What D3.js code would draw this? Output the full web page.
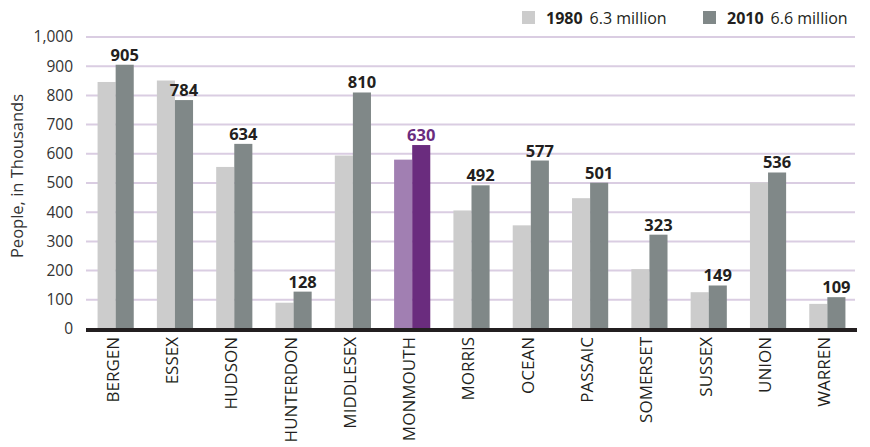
<!DOCTYPE html>
<html>
<head>
<meta charset="utf-8">
<script src="https://cdn.jsdelivr.net/npm/d3@7"></script>
<style>
body { margin: 0; background: #fff; }
svg { font-family: "Open Sans", "Noto Sans", sans-serif; }
</style>
</head>
<body>
<svg id="chart" width="870" height="447"></svg>
<script>
var counties = ['BERGEN', 'ESSEX', 'HUDSON', 'HUNTERDON', 'MIDDLESEX', 'MONMOUTH', 'MORRIS', 'OCEAN', 'PASSAIC', 'SOMERSET', 'SUSSEX', 'UNION', 'WARREN'];
var pop1980 = [846, 851, 555, 90, 594, 580, 406, 355, 448, 205, 126, 502, 86];
var pop2010 = [905, 784, 634, 128, 810, 630, 492, 577, 501, 323, 149, 536, 109];
var yTicks = [0, 100, 200, 300, 400, 500, 600, 700, 800, 900, 1000];
var legendItems = [{year: '1980', total: '6.3 million'}, {year: '2010', total: '6.6 million'}];
var highlight = 'MONMOUTH';

var svg = d3.select('#chart');
var mLeft = 86, mRight = 857, mTop = 37, mBottom = 329;

var x = d3.scaleBand().domain(counties).range([mLeft, mRight]).paddingInner(0.39).paddingOuter(0.195);
var x2 = d3.scaleBand().domain(['1980', '2010']).range([0, x.bandwidth()]);
var y = d3.scaleLinear().domain([0, 1000]).range([mBottom, mTop]);

var colors = {
	'1980': '#cccccc', '2010': '#808888',
	'1980h': '#a17fb2', '2010h': '#6a2c7e'
};

// gridlines
svg.append('g').selectAll('line')
	.data(yTicks.filter(function(d) { return d > 0; }))
	.enter().append('line')
	.attr('x1', mLeft).attr('x2', 855)
	.attr('y1', function(d) { return y(d); })
	.attr('y2', function(d) { return y(d); })
	.attr('stroke', '#dacde2')
	.attr('stroke-width', 2);

// y axis labels
var yAxis = d3.axisLeft(y).tickValues(yTicks).tickSize(0).tickPadding(13).tickFormat(d3.format(','));
svg.append('g').attr('transform', 'translate(' + mLeft + ',0)').call(yAxis)
	.call(function(g) { g.select('.domain').remove(); })
	.selectAll('text')
	.attr('font-size', 15.5).attr('fill', '#333').attr('font-family', '"Open Sans", sans-serif');

svg.append('text')
	.attr('transform', 'translate(23,176) rotate(-90)')
	.attr('text-anchor', 'middle')
	.attr('font-size', 16.5)
	.attr('fill', '#333')
	.text('People, in Thousands');

// bars
var groups = svg.append('g').selectAll('g')
	.data(counties)
	.enter().append('g')
	.attr('transform', function(d) { return 'translate(' + x(d) + ',0)'; });

groups.append('rect')
	.attr('x', x2('1980')).attr('width', x2.bandwidth())
	.attr('y', function(d, i) { return y(pop1980[i]); })
	.attr('height', function(d, i) { return mBottom - y(pop1980[i]); })
	.attr('fill', function(d) { return d == highlight ? colors['1980h'] : colors['1980']; });

groups.append('rect')
	.attr('x', x2('2010')).attr('width', x2.bandwidth())
	.attr('y', function(d, i) { return y(pop2010[i]); })
	.attr('height', function(d, i) { return mBottom - y(pop2010[i]); })
	.attr('fill', function(d) { return d == highlight ? colors['2010h'] : colors['2010']; });

groups.append('text')
	.attr('x', x2('2010') + x2.bandwidth() / 2)
	.attr('y', function(d, i) { return y(pop2010[i]) - 4; })
	.attr('text-anchor', 'middle')
	.attr('font-size', 16.5)
	.attr('font-weight', 'bold')
	.attr('fill', function(d) { return d == highlight ? colors['2010h'] : '#231f20'; })
	.text(function(d, i) { return pop2010[i]; });

// baseline
svg.append('line')
	.attr('x1', mLeft).attr('x2', mRight)
	.attr('y1', mBottom + 1).attr('y2', mBottom + 1)
	.attr('stroke', '#231f20').attr('stroke-width', 4);

// x labels
svg.append('g').selectAll('text')
	.data(counties)
	.enter().append('text')
	.attr('transform', function(d) { return 'translate(' + (x(d) + x.bandwidth() / 2 - 3) + ',337) rotate(-90)'; })
	.attr('text-anchor', 'end')
	.attr('dy', '0.35em')
	.attr('font-size', 17)
	.attr('fill', '#231f20')
	.text(function(d) { return d; });

// legend
var legend = svg.append('g').selectAll('g')
	.data(legendItems)
	.enter().append('g')
	.attr('transform', function(d, i) { return 'translate(' + (522 + i * 181) + ',0)'; });

legend.append('rect')
	.attr('x', 0).attr('y', 11).attr('width', 13).attr('height', 13)
	.attr('fill', function(d) { return colors[d.year]; });

var lt = legend.append('text')
	.attr('x', 24).attr('y', 24)
	.attr('font-size', 16)
	.attr('fill', '#231f20');
lt.append('tspan').attr('font-weight', 'bold').text(function(d) { return d.year; });
lt.append('tspan').attr('dx', 7).text(function(d) { return d.total; });
</script>
</body>
</html>
